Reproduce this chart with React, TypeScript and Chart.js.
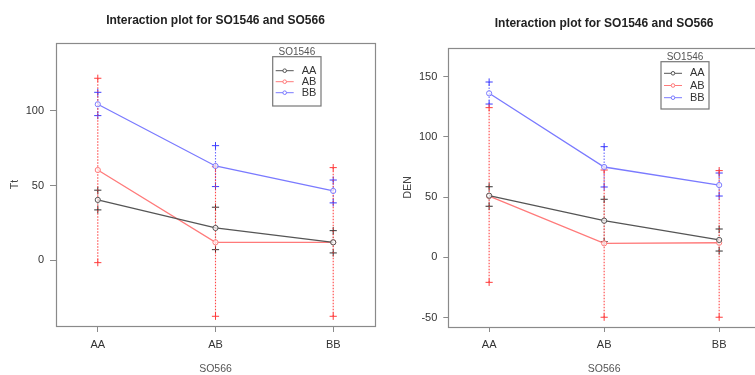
import React, { useEffect, useRef } from "react";
import { Chart, registerables } from "chart.js";

Chart.register(...registerables);

// ---------- data ----------
const categories = ["AA", "AB", "BB"]; // SO566 levels (x axis)
const groups = ["AA", "AB", "BB"]; // SO1546 levels (traces)
const legendTitle = "SO1546";
const xTitle = "SO566";
const chartTitle = "Interaction plot for SO1546 and SO566";

// Left panel: Tt
const ttMeanAA = [40.4, 21.6, 12.0];
const ttMeanAB = [60.4, 12.0, 12.0];
const ttMeanBB = [104.4, 63.1, 46.4];
const ttUpperAA = [46.9, 35.5, 19.8];
const ttLowerAA = [33.7, 7.1, 4.9];
const ttUpperAB = [121.8, 62.6, 62.0];
const ttLowerAB = [-1.6, -37.5, -37.5];
const ttUpperBB = [112.4, 76.7, 53.7];
const ttLowerBB = [96.8, 49.3, 38.4];
const ttTicks = [0, 50, 100];

// Right panel: DEN
const denMeanAA = [51.2, 30.4, 14.4];
const denMeanAB = [50.8, 11.6, 12.1];
const denMeanBB = [136.2, 75.0, 60.0];
const denUpperAA = [58.6, 48.2, 23.5];
const denLowerAA = [42.4, 13.0, 5.2];
const denUpperAB = [124.3, 72.5, 72.0];
const denLowerAB = [-20.8, -49.8, -49.8];
const denUpperBB = [145.6, 91.9, 70.0];
const denLowerBB = [127.3, 58.4, 50.9];
const denTicks = [-50, 0, 50, 100, 150];

// ---------- styles ----------
const FONT = "'Liberation Sans', Arial, Helvetica, sans-serif";
const lineColors = ["#555555", "#ff7a7a", "#7a7aff"];
const crossColors = ["#333333", "#ff3c3c", "#3c3cff"];
const barColors = ["rgba(60,60,60,0.5)", "rgba(255,50,50,0.9)", "rgba(70,70,255,0.8)"];
const barOrder = [1, 2, 0]; // interval layers, first on top
const textColor = "#333333";
const boxColor = "#8a8a8a";

const panelDecor = {
  id: "panelDecor",
  beforeDatasetsDraw(chart: any) {
    const { ctx, chartArea: a } = chart;
    ctx.save();
    ctx.strokeStyle = boxColor;
    ctx.lineWidth = 1.2;
    ctx.strokeRect(Math.round(a.left) + 0.5, Math.round(a.top) + 0.5, Math.round(a.right - a.left), Math.round(a.bottom - a.top));
    ctx.restore();
  },
  afterDraw(chart: any, _args: any, opts: any) {
    const { ctx, chartArea: a } = chart;
    const L = opts.legend;
    if (!L) return;
    const x0 = a.left + L.x;
    const y0 = a.top + L.y;
    ctx.save();
    ctx.fillStyle = "#fff";
    ctx.fillRect(x0, y0, L.w, L.h);
    ctx.strokeStyle = "#777";
    ctx.lineWidth = 1.2;
    ctx.strokeRect(x0, y0, L.w, L.h);
    ctx.font = `10px ${FONT}`;
    ctx.fillStyle = "#555";
    ctx.textAlign = "center";
    ctx.textBaseline = "middle";
    ctx.fillText(legendTitle, x0 + L.w / 2, y0 - 4);
    ctx.font = `11px ${FONT}`;
    groups.forEach((g, i) => {
      const yy = y0 + L.row0 + i * L.rowGap;
      ctx.strokeStyle = lineColors[i];
      ctx.lineWidth = 1;
      ctx.beginPath();
      ctx.moveTo(x0 + 3, yy);
      ctx.lineTo(x0 + 21, yy);
      ctx.stroke();
      ctx.beginPath();
      ctx.arc(x0 + 12, yy, 1.8, 0, Math.PI * 2);
      ctx.fillStyle = "#fff";
      ctx.fill();
      ctx.stroke();
      ctx.fillStyle = textColor;
      ctx.textAlign = "left";
      ctx.fillText(g, x0 + 29, yy);
    });
    ctx.restore();
  },
};

type Geom = {
  width: number;
  height: number;
  yw: number;
  xh: number;
  padRight: number;
  titleTop: number;
  titleBottom: number;
  yTitlePad: number;
  tickLen: number;
  legend: { x: number; y: number; w: number; h: number; row0: number; rowGap: number };
};

function Panel(props: {
  means: number[][];
  uppers: number[][];
  lowers: number[][];
  ticks: number[];
  yMin: number;
  yMax: number;
  yTitle: string;
  geom: Geom;
}) {
  const ref = useRef<HTMLCanvasElement>(null);
  useEffect(() => {
    const { means, uppers, lowers, ticks, yMin, yMax, yTitle, geom } = props;
    const datasets: any[] = [];
    groups.forEach((g, gi) => {
      datasets.push({
        label: g,
        data: means[gi].map((v, i) => ({ x: i + 1, y: v })),
        borderColor: lineColors[gi],
        borderWidth: 1.3,
        pointStyle: "circle",
        pointRadius: 2.6,
        pointBorderColor: lineColors[gi],
        pointBackgroundColor: "rgba(255,255,255,0.7)",
        pointBorderWidth: 1,
      });
    });
    barOrder.forEach((gi) => {
      const g = groups[gi];
      categories.forEach((c, i) => {
        datasets.push({
          label: `${g}-${c}-interval`,
          data: [
            { x: i + 1, y: lowers[gi][i] },
            { x: i + 1, y: uppers[gi][i] },
          ],
          borderColor: barColors[gi],
          borderWidth: 1.1,
          borderDash: [1.5, 1.5],
          pointStyle: "cross",
          pointRadius: 3.6,
          pointBorderColor: crossColors[gi],
          pointBorderWidth: 1,
        });
      });
    });

    const tickFont = { family: FONT, size: 11 };
    const chart = new Chart(ref.current as HTMLCanvasElement, {
      type: "line",
      data: { datasets },
      plugins: [panelDecor],
      options: {
        animation: false,
        responsive: false,
        events: [],
        layout: { padding: { left: 0, right: geom.padRight, top: 0, bottom: 0 } },
        plugins: {
          legend: { display: false },
          tooltip: { enabled: false },
          title: {
            display: true,
            text: chartTitle,
            fullSize: false,
            color: "#222",
            font: { family: FONT, size: 12, weight: "bold" },
            padding: { top: geom.titleTop, bottom: geom.titleBottom },
          },
          panelDecor: { legend: geom.legend },
        } as any,
        scales: {
          x: {
            type: "linear",
            min: 0.645,
            max: 3.355,
            afterBuildTicks: (s: any) => {
              s.ticks = categories.map((_, i) => ({ value: i + 1 }));
            },
            afterFit: (s: any) => {
              s.height = geom.xh;
            },
            ticks: {
              autoSkip: false,
              maxRotation: 0,
              padding: 6.5,
              color: textColor,
              font: tickFont,
              callback: (v: any) => categories[Math.round(Number(v)) - 1],
            },
            grid: { display: true, drawOnChartArea: false, drawTicks: true, tickLength: geom.tickLen, color: boxColor },
            border: { display: false },
            title: { display: true, text: xTitle, color: "#555", font: { family: FONT, size: 10.5 }, padding: { top: 0, bottom: 0 } },
          },
          y: {
            type: "linear",
            min: yMin,
            max: yMax,
            afterBuildTicks: (s: any) => {
              s.ticks = ticks.map((v) => ({ value: v }));
            },
            afterFit: (s: any) => {
              s.width = geom.yw;
            },
            ticks: { padding: 6, color: textColor, font: tickFont },
            grid: { display: true, drawOnChartArea: false, drawTicks: true, tickLength: geom.tickLen, color: boxColor },
            border: { display: false },
            title: { display: true, text: yTitle, color: "#444", font: { family: FONT, size: 10.5 }, padding: { top: geom.yTitlePad, bottom: 0 } },
          },
        },
      } as any,
    });
    return () => chart.destroy();
  }, []);
  return <canvas ref={ref} width={props.geom.width} height={props.geom.height} style={{ display: "block" }} />;
}

const leftGeom: Geom = {
  width: 380,
  height: 375,
  yw: 56,
  xh: 49,
  padRight: 3,
  titleTop: 13,
  titleBottom: 15.6,
  yTitlePad: 8.7,
  tickLen: 6,
  legend: { x: 216.7, y: 13.7, w: 48.3, h: 49.3, row0: 14, rowGap: 11 },
};

const rightGeom: Geom = {
  width: 385,
  height: 375,
  yw: 68.3,
  xh: 48,
  padRight: 1,
  titleTop: 16.8,
  titleBottom: 16.5,
  yTitlePad: 21.7,
  tickLen: 5,
  legend: { x: 212.7, y: 14, w: 48, h: 47.3, row0: 11.6, rowGap: 12.2 },
};

export default function App() {
  return (
    <div style={{ position: "fixed", left: 0, top: 0, width: 755, height: 375, overflow: "hidden", background: "#fff" }}>
      <div style={{ position: "absolute", left: 0, top: 0 }}>
        <Panel
          means={[ttMeanAA, ttMeanAB, ttMeanBB]}
          uppers={[ttUpperAA, ttUpperAB, ttUpperBB]}
          lowers={[ttLowerAA, ttLowerAB, ttLowerBB]}
          ticks={ttTicks}
          yMin={-44}
          yMax={145.4}
          yTitle="Tt"
          geom={leftGeom}
        />
      </div>
      <div style={{ position: "absolute", left: 380, top: 0 }}>
        <Panel
          means={[denMeanAA, denMeanAB, denMeanBB]}
          uppers={[denUpperAA, denUpperAB, denUpperBB]}
          lowers={[denLowerAA, denLowerAB, denLowerBB]}
          ticks={denTicks}
          yMin={-57.9}
          yMax={174.1}
          yTitle="DEN"
          geom={rightGeom}
        />
      </div>
    </div>
  );
}
